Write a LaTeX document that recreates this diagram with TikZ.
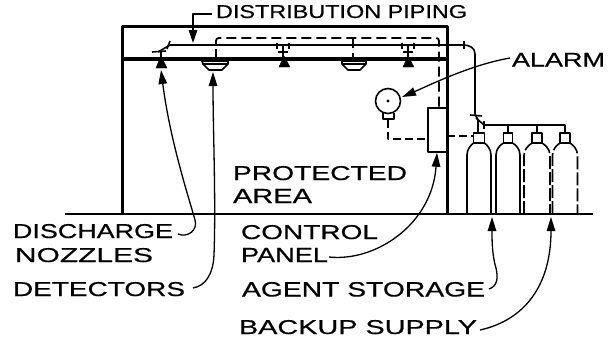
\documentclass[tikz,border=0pt]{standalone}
\usepackage{fontspec}
\setmainfont[FakeBold=0.5]{Liberation Sans}
\usetikzlibrary{arrows.meta}
\newcommand{\lbltext}[3]{\resizebox{#1pt}{#2pt}{#3}}
\tikzset{
  lab/.style={anchor=north west,inner sep=0pt,outer sep=0pt,text=black},
  wall/.style={line width=3pt},
  ceil/.style={line width=3.2pt},
  floorline/.style={line width=1.9pt},
  pipe/.style={line width=1.6pt},
  dashpipe/.style={line width=1.8pt,dash pattern=on 10pt off 5pt},
  dashtank/.style={line width=1.6pt,dash pattern=on 13pt off 3pt},
  thin outline/.style={line width=1.6pt},
  leader/.style={line width=1.3pt,-{Triangle[length=14pt,width=8.5pt]}},
  nozzle/.style={fill=black,draw=black,line width=.4pt},
}
\begin{document}
\begin{tikzpicture}[x=1pt,y=-1pt,line join=round]
\useasboundingbox (0,0) rectangle (615,343);
% labels
\node[lab] (lDist) at (216,5) {\lbltext{251}{13}{DISTRIBUTION PIPING}};
\node[lab] (lAlarm) at (512,53) {\lbltext{93}{13.5}{ALARM}};
\node[lab] (lProt) at (233,166) {\lbltext{174}{14}{PROTECTED}};
\node[lab] (lArea) at (233,189) {\lbltext{79}{14}{AREA}};
\node[lab] (lDisc) at (13,224) {\lbltext{160}{14}{DISCHARGE}};
\node[lab] (lNozz) at (15,248) {\lbltext{138}{14}{NOZZLES}};
\node[lab] (lDet) at (13,282) {\lbltext{172}{14}{DETECTORS}};
\node[lab] (lCtrl) at (241,225) {\lbltext{137}{14}{CONTROL}};
\node[lab] (lPanel) at (241,248) {\lbltext{87}{14}{PANEL}};
\node[lab] (lAgent) at (242,282) {\lbltext{243}{14.5}{AGENT STORAGE}};
\node[lab] (lBack) at (239,320) {\lbltext{238}{14}{BACKUP SUPPLY}};
% building
\draw[wall] (122,214) -- (122,26) -- (447,26) -- (447,214);
\draw[ceil] (122,59) -- (447,59);
\draw[floorline] (65,214) -- (593,214);
% distribution pipe
\draw[pipe] (158,52) -- (170,45) -- (463,45) .. controls (470,45) and (475,48) .. (475,54) -- (475,114) -- (478,120) -- (478,133);
\draw[pipe] (170,41) -- (167,49);
\draw[pipe] (152,52) -- (166,51);
\draw[pipe] (464,41) -- (464,49);
\draw[pipe] (470,115) -- (482,116);
\draw[pipe] (476,118) -- (484,125) -- (565,125) -- (565,133);
\draw[pipe] (508,125) -- (508,133);
\draw[pipe] (537,125) -- (537,133);
\draw[pipe] (484,121) -- (484,129);
% nozzle drops
\draw[pipe] (161,52) -- (161,58);
\foreach \nx in {283,408}{
  \draw[pipe] (\nx,45) -- (\nx,59);
  \draw[pipe] (\nx-5,52) -- (\nx+5,52);
  \draw[pipe] (\nx-6,43) -- (\nx-6,49);
  \draw[pipe] (\nx+6,43) -- (\nx+6,49);
}
\fill[nozzle] (161,56) -- (167,68) -- (156,68) -- cycle;
\fill[nozzle] (284,56) -- (290,67) -- (279,67) -- cycle;
\fill[nozzle] (408,56) -- (414,67) -- (403,67) -- cycle;
\coordinate (nozA) at (161,70);
% detectors
\draw[thin outline,fill=white] (202,61) -- (228,61) -- (228,64) -- (222,70) -- (209,70) -- (203,64) -- cycle;
\draw[thin outline] (203,64) -- (228,64);
\draw[thin outline,fill=white] (342,61) -- (366,61) -- (366,64) -- (360,70) -- (348,70) -- (342,64) -- cycle;
\draw[thin outline] (342,64) -- (366,64);
\coordinate (detA) at (213,72);
% detection dashed loop
\draw[dashpipe] (216,59) -- (216,41) .. controls (216,39) and (217,38) .. (219,38) -- (436,38) .. controls (438,38) and (439,39) .. (439,41) -- (439,108);
\draw[dashpipe] (353,38) -- (353,59);
% panel
\node[draw,line width=1.5pt,inner sep=0pt,minimum width=19pt,minimum height=44pt,fill=white] (panel) at (437.5,130) {};
% alarm
\node[circle,draw,line width=1.6pt,inner sep=0pt,minimum size=25pt] (alarm) at (388,101) {};
\fill (alarm.center) circle (1.6);
\draw[thin outline] (383,113) -- (383,119) -- (394,119) -- (394,113);
\draw[dashpipe,dash pattern=on 8pt off 4pt] (388,120) -- (388,139) -- (panel.west |- 388,139);
\draw[dashpipe,dash pattern=on 8pt off 4pt] (447,136) -- (473,136);
% tanks
\foreach \cx/\hw/\cw in {479/12/5.5,508/12/4.5}{
  \draw[thin outline] (\cx-\cw,143) rectangle (\cx+\cw,133);
  \draw[thin outline] (\cx-\hw,214) -- (\cx-\hw,155) .. controls (\cx-\hw,149) and (\cx-8,145) .. (\cx-\cw,143) -- (\cx+\cw,143) .. controls (\cx+8,145) and (\cx+\hw,149) .. (\cx+\hw,155) -- (\cx+\hw,214);
}
\foreach \cx/\hw in {537/13,565/12.5}{
  \draw[thin outline] (\cx-5,143) rectangle (\cx+5,133);
  \draw[dashtank] (\cx-\hw,214) -- (\cx-\hw,155) .. controls (\cx-\hw,149) and (\cx-8,145) .. (\cx-5,143) (\cx+5,143) .. controls (\cx+8,145) and (\cx+\hw,149) .. (\cx+\hw,155) -- (\cx+\hw,214);
}
% leaders
\coordinate (a1) at (212,14);
\draw[line width=1.6pt,-{Triangle[length=13pt,width=8.5pt]}] (a1) -- (193,14) -- (193,43);
\coordinate (a2) at (510,58);
\draw[leader] (a2) .. controls (470,65) and (430,85) .. (402,97);
\coordinate (a3) at (178,234);
\draw[leader] (a3) .. controls (188,238) and (198,230) .. (195,220) .. controls (188,195) and (170,140) .. (nozA);
\coordinate (a4) at (193,288);
\draw[leader] (a4) .. controls (205,286) and (213,275) .. (214,255) .. controls (216,200) and (213,130) .. (detA);
\coordinate (a5) at (329,257);
\draw[leader] (a5) .. controls (375,262) and (432,225) .. (panel.south -| 437,153);
\coordinate (a6) at (489,289);
\coordinate (agentTip) at (492,217);
\draw[leader] (a6) .. controls (498,286) and (498,277) .. (496,268) .. controls (492,255) and (492,240) .. (agentTip);
\coordinate (a7) at (480,330);
\coordinate (backTip) at (551,217);
\draw[leader] (a7) .. controls (525,320) and (551,285) .. (backTip);
\end{tikzpicture}
\end{document}
